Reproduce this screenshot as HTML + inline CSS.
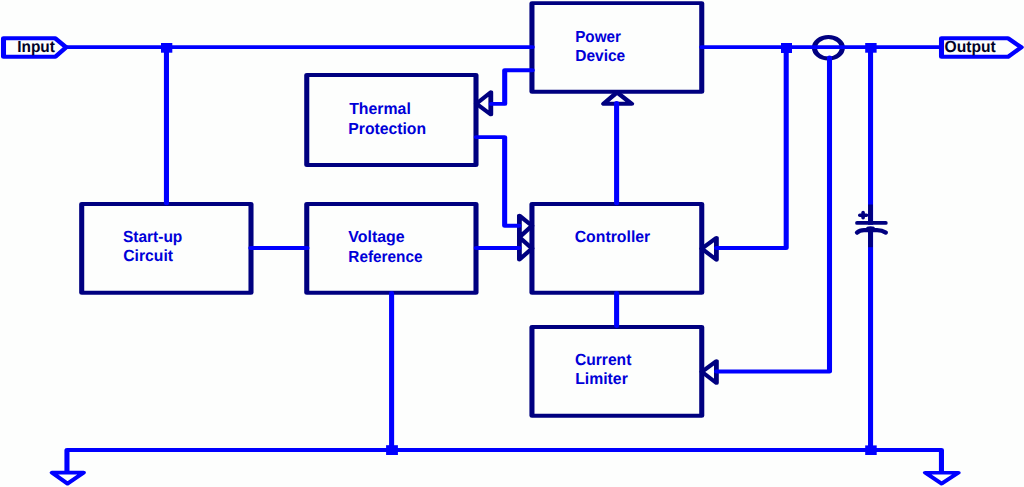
<!DOCTYPE html>
<html><head><meta charset="utf-8"><style>
html,body{margin:0;padding:0;background:#fdfefd;}
body{width:1024px;height:487px;overflow:hidden;position:relative;}
svg{position:absolute;left:0;top:0;}
text{text-rendering:geometricPrecision;font-family:"Liberation Sans",sans-serif;font-weight:bold;font-size:16.1px;}
</style></head><body>
<svg width="1024" height="487" viewBox="0 0 1024 487">
<g transform="scale(1.3,1)">
<path d="M409.192,3.15 L539.808,3.15 L539.808,91.75 L409.192,91.75 Z" fill="none" stroke="#000080" stroke-width="3.9" stroke-linejoin="round" stroke-linecap="butt"/>
<path d="M235.962,75.0 L366.154,75.0 L366.154,165.0 L235.962,165.0 Z" fill="none" stroke="#000080" stroke-width="3.9" stroke-linejoin="round" stroke-linecap="butt"/>
<path d="M62.846,204.0 L193.077,204.0 L193.077,292.8 L62.846,292.8 Z" fill="none" stroke="#000080" stroke-width="3.9" stroke-linejoin="round" stroke-linecap="butt"/>
<path d="M235.962,204.0 L366.154,204.0 L366.154,292.7 L235.962,292.7 Z" fill="none" stroke="#000080" stroke-width="3.9" stroke-linejoin="round" stroke-linecap="butt"/>
<path d="M409.192,204.0 L539.808,204.0 L539.808,292.7 L409.192,292.7 Z" fill="none" stroke="#000080" stroke-width="3.9" stroke-linejoin="round" stroke-linecap="butt"/>
<path d="M409.192,327.0 L539.808,327.0 L539.808,415.8 L409.192,415.8 Z" fill="none" stroke="#000080" stroke-width="3.9" stroke-linejoin="round" stroke-linecap="butt"/>
<path d="M474.615,92.4 L464.308,103.8 L485.923,103.8 Z" fill="#fdfefd" stroke="#000080" stroke-width="3.9" stroke-linejoin="round" stroke-linecap="butt"/>
<path d="M366.385,103.7 L377.538,92.2 L377.538,114.5 Z" fill="#fdfefd" stroke="#000080" stroke-width="3.7" stroke-linejoin="round" stroke-linecap="butt"/>
<path d="M539.846,248.6 L551.077,237.9 L551.077,259.8 Z" fill="#fdfefd" stroke="#000080" stroke-width="3.7" stroke-linejoin="round" stroke-linecap="butt"/>
<path d="M539.846,371.8 L551.077,361.1 L551.077,383.0 Z" fill="#fdfefd" stroke="#000080" stroke-width="3.7" stroke-linejoin="round" stroke-linecap="butt"/>
<path d="M409.231,225.7 L399.538,215.6 L399.538,237.3 Z" fill="#fdfefd" stroke="#000080" stroke-width="3.7" stroke-linejoin="round" stroke-linecap="butt"/>
<path d="M409.231,248.5 L399.538,237.3 L399.538,259.6 Z" fill="#fdfefd" stroke="#000080" stroke-width="3.7" stroke-linejoin="round" stroke-linecap="butt"/>
<ellipse cx="637.231" cy="47.8" rx="10.708" ry="10.7" fill="none" stroke="#000080" stroke-width="4.0"/>
<path d="M49.231,47.1 L409.462,47.1" fill="none" stroke="#0000ff" stroke-width="3.9" stroke-linejoin="round" stroke-linecap="round"/>
<path d="M128.038,47 L128.038,203.3" fill="none" stroke="#0000ff" stroke-width="3.9" stroke-linejoin="round" stroke-linecap="round"/>
<path d="M409.462,70.2 L388.231,70.2 L388.231,103.9 L377.923,103.9" fill="none" stroke="#0000ff" stroke-width="3.9" stroke-linejoin="round" stroke-linecap="round"/>
<path d="M366.385,137.1 L388.192,137.1 L388.192,225.7 L399.231,225.7" fill="none" stroke="#0000ff" stroke-width="3.9" stroke-linejoin="round" stroke-linecap="round"/>
<path d="M192.923,248.05 L236.154,248.05" fill="none" stroke="#0000ff" stroke-width="3.9" stroke-linejoin="round" stroke-linecap="round"/>
<path d="M366.385,248.05 L399.231,248.05" fill="none" stroke="#0000ff" stroke-width="3.9" stroke-linejoin="round" stroke-linecap="round"/>
<path d="M474.308,103 L474.308,203.3" fill="none" stroke="#0000ff" stroke-width="3.9" stroke-linejoin="round" stroke-linecap="round"/>
<path d="M474.308,293.0 L474.308,326.0" fill="none" stroke="#0000ff" stroke-width="3.9" stroke-linejoin="round" stroke-linecap="round"/>
<path d="M539.692,47.1 L723.846,47.1" fill="none" stroke="#0000ff" stroke-width="3.9" stroke-linejoin="round" stroke-linecap="round"/>
<path d="M604.769,47 L604.769,248.05 L551.154,248.05" fill="none" stroke="#0000ff" stroke-width="3.9" stroke-linejoin="round" stroke-linecap="round"/>
<path d="M638.077,57.5 L638.077,371.55 L551.154,371.55" fill="none" stroke="#0000ff" stroke-width="3.9" stroke-linejoin="round" stroke-linecap="round"/>
<path d="M669.654,47 L669.654,450" fill="none" stroke="#0000ff" stroke-width="3.9" stroke-linejoin="round" stroke-linecap="butt"/>
<path d="M51.5,473 L51.5,450 L724.192,450 L724.192,473" fill="none" stroke="#0000ff" stroke-width="3.9" stroke-linejoin="round" stroke-linecap="butt"/>
<path d="M301.231,293.0 L301.231,450" fill="none" stroke="#0000ff" stroke-width="3.9" stroke-linejoin="round" stroke-linecap="round"/>
<path d="M40.0,472.6 L64.308,472.6 L51.923,483.6 Z" fill="#fdfefd" stroke="#0000ff" stroke-width="3.6" stroke-linejoin="round" stroke-linecap="butt"/>
<path d="M711.692,472.7 L737.231,472.7 L724.308,483.6 Z" fill="#fdfefd" stroke="#0000ff" stroke-width="3.6" stroke-linejoin="round" stroke-linecap="butt"/>
<path d="M2.692,38.3 L42.538,38.3 L50.923,47.3 L42.538,56.8 L2.692,56.8 Z" fill="#fdfefd" stroke="#0000ff" stroke-width="3.9" stroke-linejoin="round" stroke-linecap="butt"/>
<path d="M724.231,38.3 L775.385,38.3 L785.538,47.3 L775.385,56.8 L724.231,56.8 Z" fill="#fdfefd" stroke="#0000ff" stroke-width="3.9" stroke-linejoin="round" stroke-linecap="butt"/>
</g>
<rect x="161" y="43" width="11.3" height="9.7" fill="#0000ff"/>
<rect x="781" y="43" width="11" height="10" fill="#0000ff"/>
<rect x="865.2" y="43" width="11.4" height="9.7" fill="#0000ff"/>
<rect x="386.1" y="445.2" width="11.8" height="9.8" fill="#0000ff"/>
<rect x="865.2" y="445.4" width="11.5" height="9.6" fill="#0000ff"/>
<rect x="867.5" y="224.8" width="6.0" height="3.2" fill="#fdfefd"/>
<rect x="868.1" y="204.5" width="4.8" height="19.5" fill="#000080"/>
<rect x="868.1" y="228" width="4.8" height="19.2" fill="#000080"/>
<line x1="857" y1="222.9" x2="885.8" y2="222.9" stroke="#000080" stroke-width="3.8" stroke-linecap="round"/>
<path d="M857.0,232.6 Q859.6,230.2 864,230.2 L877,230.2 Q882,230.2 885.8,232.6" fill="none" stroke="#000080" stroke-width="4.3" stroke-linecap="round" stroke-linejoin="round"/>
<ellipse cx="870.5" cy="228.6" rx="4.5" ry="2.3" fill="#000080"/>
<line x1="859.8" y1="215.2" x2="866.5" y2="215.2" stroke="#000080" stroke-width="3.6" stroke-linecap="round"/>
<line x1="863.1" y1="212.6" x2="863.1" y2="217.8" stroke="#000080" stroke-width="3.6" stroke-linecap="round"/>
<text id="Power" transform="translate(575.2,42.0) scale(0.9463,1)" fill="#0000d8">Power</text>
<text id="Device" transform="translate(575.24,61.25) scale(0.9617,1)" fill="#0000d8">Device</text>
<text id="Thermal" transform="translate(349.15,113.8) scale(0.9848,1)" fill="#0000d8">Thermal</text>
<text id="Protection" transform="translate(348.35,133.6) scale(0.9764,1)" fill="#0000d8">Protection</text>
<text id="Start_up" transform="translate(122.98,242.0) scale(0.962,1)" fill="#0000d8">Start-up</text>
<text id="Circuit" transform="translate(123.24,260.7) scale(0.9758,1)" fill="#0000d8">Circuit</text>
<text id="Voltage" transform="translate(348.36,241.8) scale(0.9883,1)" fill="#0000d8">Voltage</text>
<text id="Reference" transform="translate(348.37,261.7) scale(0.9527,1)" fill="#0000d8">Reference</text>
<text id="Controller" transform="translate(574.68,241.72) scale(0.9823,1)" fill="#0000d8">Controller</text>
<text id="Current" transform="translate(574.98,365.07) scale(0.9698,1)" fill="#0000d8">Current</text>
<text id="Limiter" transform="translate(575.23,383.7) scale(0.9791,1)" fill="#0000d8">Limiter</text>
<text id="Input" transform="translate(17.19,52.0) scale(0.9584,1)" fill="#000028">Input</text>
<text id="Output" transform="translate(944.55,52.0) scale(0.9702,1)" fill="#000028">Output</text>
</svg>
</body></html>
